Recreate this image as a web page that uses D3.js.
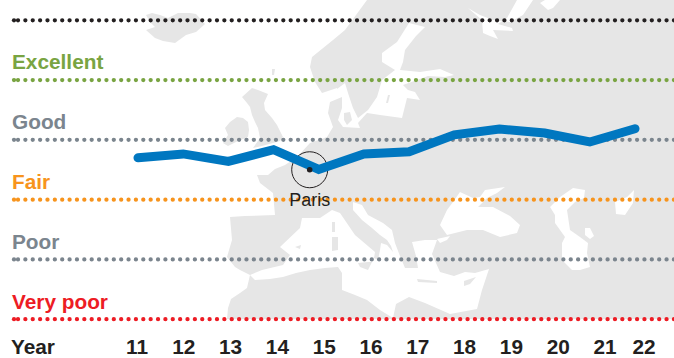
<!DOCTYPE html>
<html><head><meta charset="utf-8">
<script src="https://cdnjs.cloudflare.com/ajax/libs/d3/7.8.5/d3.min.js"></script>
<style>html,body{margin:0;padding:0;background:#fff}svg{display:block}text{font-family:"Liberation Sans",Arial,sans-serif}</style>
</head><body><svg id="c" width="674" height="358"></svg>
<script>
const levels = ["", "Excellent", "Good", "Fair", "Poor", "Very poor"];
const levelColors = ["#231f20", "#79a442", "#7b858e", "#f7941d", "#7b858e", "#ed1c24"];
const years = [11,12,13,14,15,16,17,18,19,20,21,22];
const airQuality = [54, 55.3, 52.8, 56.7, 50.1, 55.3, 56, 61.7, 63.6, 62.3, 59.3, 63.7];
const cityLabel = "Paris";
const cityValue = 50.0;
const cityYear = 14.8;

// Backdrop map outlines (decorative base map, in picture units)
const iceland = [[146,15],[152,13],[160,15],[168,18],[178,13],[190,13],[196,14],[205,24],[196,32],[186,35],[175,43],[163,41],[155,38],[146,30],[155,27],[150,22]];
const britain = [[252,88],[258,90],[268,94],[264,103],[265,110],[272,118],[277,125],[283,137],[280,141],[273,143],[262,146],[253,148],[260,138],[258,128],[255,122],[252,115],[250,107],[247,103],[242,97]];
const ireland = [[225,128],[230,122],[237,117],[243,118],[248,122],[249,130],[248,137],[238,141],[228,146],[223,143],[228,135]];
const shetland = [[272,69],[275,69],[274,75],[272,75]];
const mainland = [[367,0],[674,0],[674,319],[227,319],[228,308],[231,299],[240,293],[247,288],[250,275],[240,270],[235,267],[227,257],[232,240],[230,217],[245,216],[275,215],[273,193],[260,183],[257,175],[268,175],[275,169],[285,165],[297,157],[310,143],[327,137],[333,127],[328,113],[330,102],[342,97],[338,92],[337,88],[322,93],[315,82],[310,67],[312,57],[333,40],[345,30]];
const kattegat = [[330,95],[337,89],[345,83],[348,93],[353,108],[358,118],[358,123],[360,128],[343,127],[338,120],[342,108],[342,97]];
const baltic = [[409,23],[425,27],[416,36],[405,50],[403,62],[400,70],[420,72],[440,69],[454,75],[445,77],[428,76],[417,80],[403,85],[408,90],[415,92],[420,100],[407,98],[402,118],[380,115],[367,113],[358,123],[358,118],[368,110],[377,97],[382,80],[395,70],[382,62],[382,53],[397,42]];
const med = [[250,275],[255,280],[270,279],[283,277],[296,273],[310,270],[325,268],[338,267],[342,273],[342,290],[355,295],[367,300],[380,310],[393,318],[396,304],[409,297],[425,303],[450,314],[477,309],[482,290],[489,269],[475,273],[465,272],[454,276],[440,272],[432,254],[437,240],[425,240],[412,242],[416,256],[418,268],[405,268],[400,256],[395,243],[392,230],[383,223],[368,215],[362,205],[353,202],[353,210],[362,220],[372,228],[380,235],[387,240],[391,246],[393,252],[387,245],[381,243],[380,250],[378,260],[374,258],[375,252],[355,235],[340,213],[332,210],[320,218],[302,218],[300,228],[280,247],[290,255],[283,265],[262,270]];
const corsica = [[332,222],[335,222],[335,232],[332,232]];
const sardinia = [[332,237],[338,237],[338,250],[332,251]];
const balearic = [[295,247],[301,245],[300,249]];
const sicily = [[358,263],[368,262],[372,262],[368,270],[360,267]];
const danishIsles = [[344,113],[350,112],[352,120],[347,125],[344,120]];
const gotland = [[388,95],[390,95],[388,103],[386,103]];
const crete = [[417,279],[437,281],[437,283],[418,282]];
const cyprus = [[464,281],[476,277],[470,284],[464,286]];
const blackSea = [[460,192],[473,198],[480,197],[485,190],[505,187],[497,193],[487,198],[478,207],[493,207],[510,216],[520,225],[517,233],[500,237],[483,230],[467,230],[447,235],[440,225],[447,210],[453,202]];
const marmara = [[437,239],[450,236],[447,240],[440,243]];
const caspian = [[550,207],[560,197],[573,188],[585,190],[584,198],[575,202],[567,210],[570,230],[580,237],[588,243],[587,253],[590,267],[580,270],[572,270],[562,260],[562,243],[565,237],[555,223],[555,215]];
const karaBogaz = [[585,228],[590,228],[594,236],[590,239],[585,235]];
const aral = [[615,202],[627,197],[634,190],[633,203],[625,215],[616,214]];
const whiteSea = [[468,8],[480,15],[493,20],[510,22],[523,15],[533,0],[517,0],[507,18],[498,24],[512,28],[513,31],[493,30],[498,39],[490,36],[483,33],[482,20]];
const barents = [[540,3],[545,0],[560,0],[553,8],[548,10]];
const seas = [kattegat, baltic, med, blackSea, marmara, caspian, karaBogaz, aral, whiteSea, barents];
const lands = [iceland, britain, ireland, shetland, mainland];
const isles = [corsica, sardinia, balearic, sicily, danishIsles, gotland, crete, cyprus];

const svg = d3.select("#c");
const ruleY = d3.scalePoint().domain(d3.range(levels.length)).range([20.3, 319.2]);
const y = d3.scaleLinear().domain([0, 100]).range([319.2, 20.3]);
const x = d3.scaleLinear().domain([11, 22]).range([138, 635]);
const tickX = d3.scaleLinear().domain([11, 21]).range([137, 605]);
const outline = d3.line();

const map = svg.append("g");
map.selectAll("path.l").data(lands).join("path").attr("class","l").attr("d", d => outline(d)+"Z").attr("fill","#e6e6e6");
map.selectAll("path.s").data(seas).join("path").attr("class","s").attr("d", d => outline(d)+"Z").attr("fill","#fff");
map.selectAll("path.i").data(isles).join("path").attr("class","i").attr("d", d => outline(d)+"Z").attr("fill","#e6e6e6");

const rules = svg.append("g");
levels.forEach((lab, i) => {
  const c = levelColors[i], yy = ruleY(i);
  rules.append("line").attr("x1",18).attr("x2",676).attr("y1",yy).attr("y2",yy)
    .attr("stroke",c).attr("stroke-width",4.3).attr("stroke-linecap","round").attr("stroke-dasharray","0 7.37");
  rules.append("line").attr("x1",14).attr("x2",14).attr("y1",yy).attr("y2",yy)
    .attr("stroke",c).attr("stroke-width",4.3).attr("stroke-linecap","round");
  if (lab) svg.append("text").attr("x",12).attr("y",yy-10.6).attr("fill",c)
    .attr("font-size",20.8).attr("font-weight",700).text(lab);
});

svg.append("circle").attr("cx",x(cityYear)).attr("cy",y(cityValue)).attr("r",18)
  .attr("fill","none").attr("stroke","#231f20").attr("stroke-width",1);

svg.append("path").datum(years.map((d,i)=>[x(d),y(airQuality[i])]))
  .attr("d", d3.line()).attr("fill","none").attr("stroke","#0077c0").attr("stroke-width",9)
  .attr("stroke-linecap","round").attr("stroke-linejoin","miter");

svg.append("circle").attr("cx",x(cityYear)).attr("cy",y(cityValue)).attr("r",2.8).attr("fill","#231f20");
svg.append("text").attr("x",x(cityYear)).attr("y",205.5).attr("text-anchor","middle")
  .attr("font-size",18).attr("fill","#231f20").text(cityLabel);

svg.append("text").attr("x",11).attr("y",354).attr("font-size",20.8).attr("font-weight",700).attr("fill","#231f20").text("Year");
svg.selectAll("text.t").data(years).join("text").attr("class","t")
  .attr("x", d => d === 22 ? tickX(21)+39 : tickX(d)).attr("y",354).attr("text-anchor","middle")
  .attr("font-size",20.8).attr("font-weight",700).attr("fill","#231f20").text(d => d);
</script></body></html>
